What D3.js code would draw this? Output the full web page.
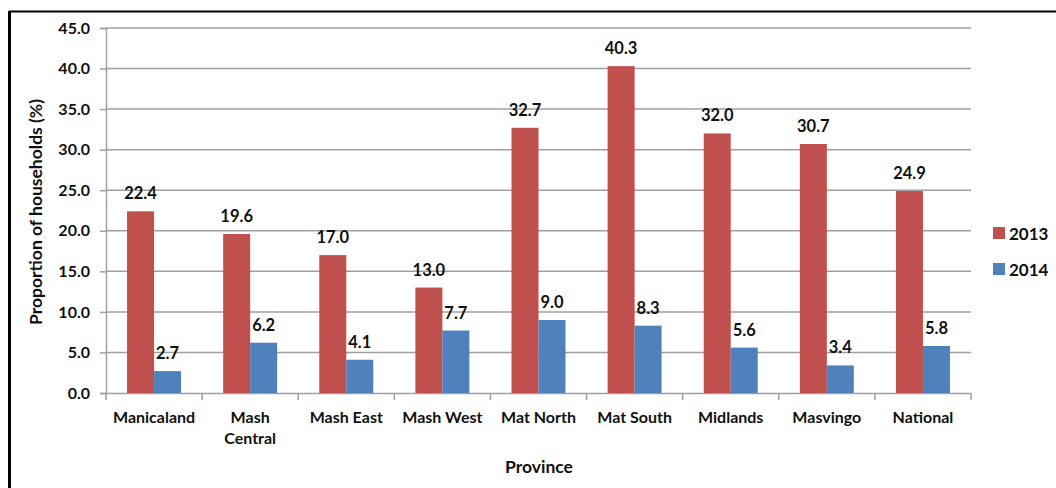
<!DOCTYPE html>
<html>
<head>
<meta charset="utf-8">
<script src="https://cdn.jsdelivr.net/npm/d3@7"></script>
<style>
  body { margin: 0; background: #fff; }
  svg text { font-family: Lato, "Open Sans", sans-serif; font-weight: bold; fill: #111; }
</style>
</head>
<body>
<svg id="chart" width="1056" height="488"></svg>
<script>
const provinces = [["Manicaland"], ["Mash", "Central"], ["Mash East"], ["Mash West"], ["Mat North"],
                   ["Mat South"], ["Midlands"], ["Masvingo"], ["National"]];
const years = ["2013", "2014"];
const values2013 = [22.4, 19.6, 17.0, 13.0, 32.7, 40.3, 32.0, 30.7, 24.9];
const values2014 = [2.7, 6.2, 4.1, 7.7, 9.0, 8.3, 5.6, 3.4, 5.8];
const yTicks = [0, 5, 10, 15, 20, 25, 30, 35, 40, 45];

const colors = { "2013": "#C0504D", "2014": "#4F81BD" };

const svg = d3.select("#chart");
const margin = { left: 106, right: 971, top: 28, bottom: 393 };

// frame around the figure (only top and left show)
svg.append("line").attr("x1", 9).attr("x2", 1056).attr("y1", 11.5).attr("y2", 11.5)
   .attr("stroke", "#000").attr("stroke-width", 2);
svg.append("line").attr("x1", 9.5).attr("x2", 9.5).attr("y1", 11).attr("y2", 488)
   .attr("stroke", "#000").attr("stroke-width", 3);

const x = d3.scaleBand().domain(d3.range(provinces.length))
  .range([margin.left, margin.right]).paddingInner(0).paddingOuter(0);
const y = d3.scaleLinear().domain([0, 45]).range([margin.bottom, margin.top]);

// gridlines
svg.append("g").selectAll("line").data(yTicks.filter(d => d > 0)).join("line")
  .attr("x1", margin.left).attr("x2", margin.right)
  .attr("y1", d => y(d)).attr("y2", d => y(d))
  .attr("stroke", "#a0a0a0").attr("stroke-width", 1.5);

// y axis
const yAxis = svg.append("g").attr("transform", `translate(${margin.left},0)`)
  .call(d3.axisLeft(y).tickValues(yTicks).tickFormat(d3.format(".1f")).tickSize(6).tickPadding(10));
yAxis.select(".domain").attr("stroke", "#a0a0a0").attr("stroke-width", 1.5);
yAxis.selectAll(".tick line").attr("stroke", "#a0a0a0").attr("stroke-width", 1.5);
yAxis.selectAll("text").attr("font-size", 16).attr("font-family", null);

// x axis
const xAxis = svg.append("g").attr("transform", `translate(0,${margin.bottom})`)
  .call(d3.axisBottom(x).tickFormat("").tickSize(0));
xAxis.select(".domain").attr("stroke", "#a0a0a0").attr("stroke-width", 1.5);
const boundaries = d3.range(provinces.length + 1).map(i => i < provinces.length ? x(i) : x(i - 1) + x.bandwidth());
svg.append("g").selectAll("line").data(boundaries).join("line")
  .attr("x1", d => d).attr("x2", d => d)
  .attr("y1", margin.bottom).attr("y2", margin.bottom + 7)
  .attr("stroke", "#a0a0a0").attr("stroke-width", 1.5);

svg.append("g").selectAll("text").data(provinces).join("text")
  .attr("x", (d, i) => x(i) + x.bandwidth() / 2)
  .attr("y", 423)
  .attr("text-anchor", "middle")
  .attr("font-size", 16)
  .selectAll("tspan").data(d => d).join("tspan")
  .attr("x", function () { return this.parentNode.getAttribute("x"); })
  .attr("dy", (d, i) => i === 0 ? 0 : 21)
  .text(d => d);

// bars
const sub = d3.scaleBand().domain(years).range([0, x.bandwidth()]).paddingInner(0).paddingOuter(0.78);
const series = [{ year: "2013", vals: values2013 }, { year: "2014", vals: values2014 }];
series.forEach(s => {
  const g = svg.append("g");
  g.selectAll("rect").data(s.vals).join("rect")
    .attr("x", (d, i) => x(i) + sub(s.year))
    .attr("y", d => y(d))
    .attr("width", sub.bandwidth())
    .attr("height", d => y(0) - y(d))
    .attr("fill", colors[s.year]);
  g.selectAll("text").data(s.vals).join("text")
    .attr("x", (d, i) => x(i) + sub(s.year) + sub.bandwidth() / 2)
    .attr("y", d => y(d) - 12)
    .attr("text-anchor", "middle")
    .attr("font-size", 16.5)
    .text(d => d.toFixed(1));
});

// legend
const legend = svg.append("g");
years.forEach((yr, i) => {
  legend.append("rect").attr("x", 993).attr("y", 227 + i * 36).attr("width", 12).attr("height", 12)
    .attr("fill", colors[yr]);
  legend.append("text").attr("x", 1009).attr("y", 240 + i * 36).attr("font-size", 17).text(yr);
});

// axis titles
svg.append("text").attr("x", 539).attr("y", 473).attr("text-anchor", "middle")
  .attr("font-size", 17.5).text("Province");
svg.append("text").attr("transform", "translate(42,212) rotate(-90)").attr("text-anchor", "middle")
  .attr("font-size", 17.5).text("Proportion of households (%)");
</script>
</body>
</html>
